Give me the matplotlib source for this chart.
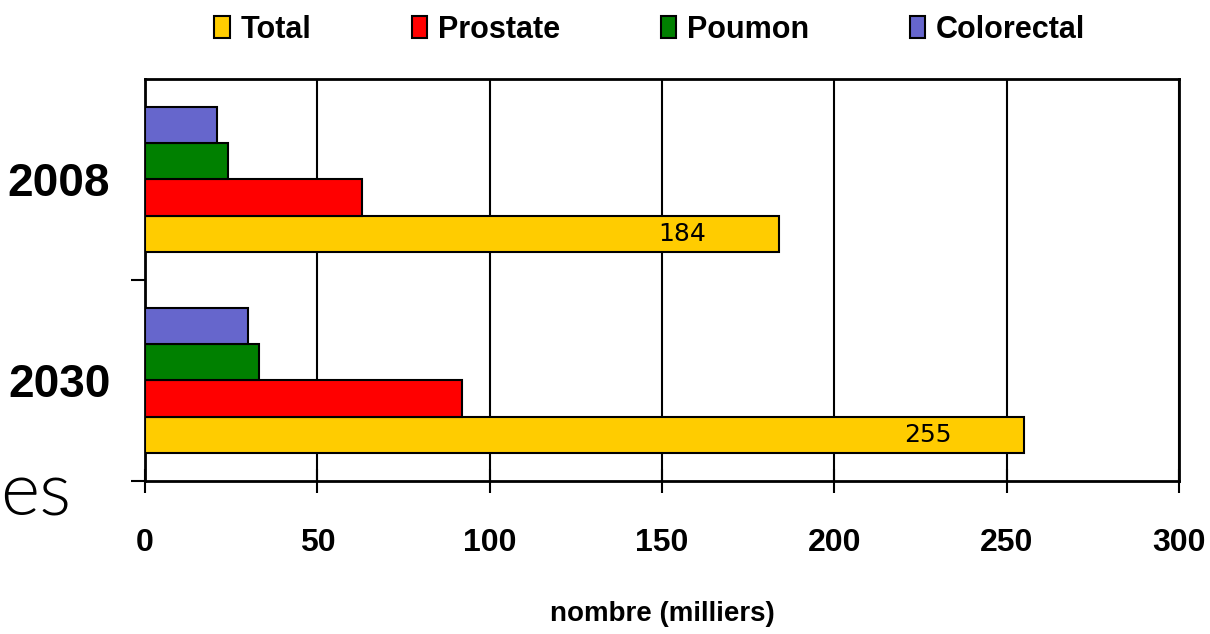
import matplotlib
matplotlib.use('Agg')
import matplotlib.pyplot as plt
import matplotlib.patches as patches
import numpy as np

# data (milliers)
years = ['2008', '2030']
series = ['Total', 'Prostate', 'Poumon', 'Colorectal']
total = [184, 255]
prostate = [63, 92]
poumon = [24, 33]
colorectal = [21, 30]
colors = ['#FFCC00', '#FF0000', '#008000', '#6666CC']
xticks = [0, 50, 100, 150, 200, 250, 300]

plt.rcParams['font.family'] = ['Liberation Sans', 'DejaVu Sans']
plt.rcParams['font.weight'] = 'bold'

fig = plt.figure(figsize=(12.1, 6.34), dpi=100)
ax = fig.add_axes([145 / 1210, 1 - 481 / 634, (1179 - 145) / 1210, (481 - 79) / 634])

pos = np.arange(len(years))
h = 0.18
values = [total, prostate, poumon, colorectal]
offsets = [0.27, 0.09, -0.09, -0.27]
for vals, off, col, name in zip(values, offsets, colors, series):
    ax.barh(pos + off, vals, height=h, color=col, edgecolor='black',
            linewidth=1.5, label=name, zorder=3)

# value labels on the total bars
for p, v in zip(pos, total):
    ax.text(v - 28, p + 0.27, str(v), ha='center', va='center',
            fontsize=18, fontweight='normal', family='DejaVu Sans', zorder=4)

ax.set_xlim(0, 300)
ax.set_ylim(1.5, -0.5)
ax.set_xticks(xticks)
ax.set_xticklabels([str(t) for t in xticks], fontsize=23, fontweight='bold')
ax.tick_params(axis='x', direction='inout', length=17, width=1.5, pad=25)
ax.xaxis.grid(True, color='black', linewidth=1.5, zorder=1)

ax.set_yticks([0.5, 1.5])
ax.set_yticklabels([])
ax.set_yticks(pos, minor=True)
ax.set_yticklabels(years, minor=True, fontsize=33, fontweight='bold')
ax.tick_params(axis='y', which='major', direction='out', length=10, width=1.5)
ax.tick_params(axis='y', which='minor', length=0, pad=25)

for s in ax.spines.values():
    s.set_linewidth(2)

ax.set_xlabel('nombre (milliers)', fontsize=20, fontweight='bold', labelpad=31)

handles = [patches.Patch(facecolor=c, edgecolor='black', linewidth=1.5) for c in colors]
fig.legend(handles, series, loc='center', bbox_to_anchor=(0.537, 0.953), ncol=4,
           frameon=False, handlelength=0.5, handleheight=0.7,
           handletextpad=0.35, columnspacing=3.3, prop={'weight': 'bold', 'size': 22})

# leftover text from the slide
fig.text(0.0, 1 - 495 / 634, 'es', fontsize=54, fontweight=300,
         family='Lato', va='center', ha='left')

fig.savefig('out.png', dpi=100)
